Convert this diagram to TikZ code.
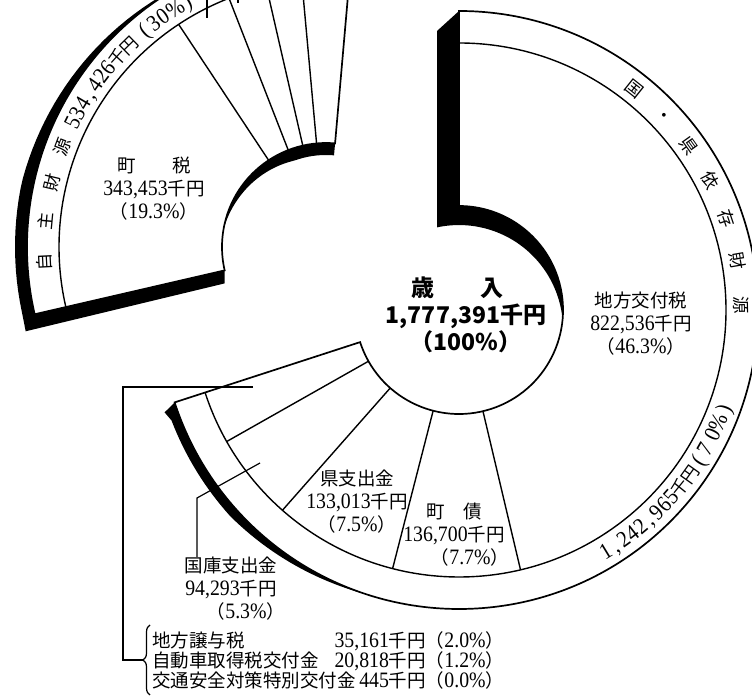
\documentclass[tikz,border=0pt]{standalone}
\usepackage{fontspec}
\setmainfont{Liberation Serif}[FakeStretch=0.9]
\newfontfamily\J{Noto Sans CJK JP}
\usetikzlibrary{decorations.pathreplacing}
\newcommand\jp[1]{{\fontsize{18.5}{23}\selectfont\J #1}}
\newcommand\jr[1]{{\fontsize{17.5}{17.5}\selectfont\J #1}}
\begin{document}
\begin{tikzpicture}[x=1pt,y=1pt,
  grp/.style={fill=white,draw=black,line width=1.7pt},
  ringline/.style={draw=black,line width=1.4pt},
  blk/.style={fill=black},
  ptr/.style={draw=black,line width=1.2pt},
  lbl/.style={font=\fontsize{22}{23}\selectfont,align=center,inner sep=0pt},
  rt/.style={anchor=base,inner sep=0pt,font=\fontsize{23}{23}\selectfont},
]
\useasboundingbox (0,0) rectangle (752,700);
\clip (0,0) rectangle (752,700);
\coordinate (C) at (459,390);
\coordinate (CL) at (326,453);

% shadows, right group
\begin{scope}[shift={(C)}]
\fill[blk] (0,299) -- (-22,279) -- (-22,82.6) arc[start angle=102.2,end angle=5.24,radius=104] arc[start angle=-5.24,end angle=90,radius=104] -- cycle;
\fill[blk] (-162:299) -- (-294.4,-102.4) -- plot[domain=-159:-108,samples=40] (\x:{299+9*min(1,(-108-\x)/30)}) -- (-108:299) arc[start angle=-108,end angle=-162,radius=299] -- cycle;
\end{scope}
% shadows, left group
\begin{scope}[shift={(CL)}]
\fill[blk] (193:104) -- (193:299) arc[start angle=193,end angle=118,radius=299] -- plot[domain=118:192,samples=40] (\x:{299+12*min(1,(\x-118)/50)}) -- (-300.3,-84.3) -- (-101.3,-36.4) -- cycle;
\fill[blk] (85:104) arc[start angle=85,end angle=170,radius=104] -- plot[domain=170:85,samples=40] (\x:{104-12*min(1,(170-\x)/60)}) -- cycle;
\end{scope}

% right group
\begin{scope}[shift={(C)}]
\path[grp] (90:104) -- (90:299) arc[start angle=90,end angle=-162,radius=299] -- (-162:104) arc[start angle=-162,end angle=90,radius=104] -- cycle;
\path[ringline] (90:267) arc[start angle=90,end angle=-162,radius=267];
\foreach \a in {-76.68,-104.4,-131.4,-150.48} \path[ringline] (\a:104) -- (\a:267);
\end{scope}
% left group
\begin{scope}[shift={(CL)}]
\path[grp] (85:104) -- (85:299) arc[start angle=85,end angle=193,radius=299] -- (193:104) arc[start angle=193,end angle=85,radius=104] -- cycle;
\path[ringline] (85:267) arc[start angle=85,end angle=193,radius=267];
\foreach \a in {123.5,111.3,102.9,95.2} \path[ringline] (\a:104) -- (\a:267);
\end{scope}

% ring texts
\begin{scope}[shift={(CL)}]
\foreach \a/\ch [count=\idx] in {183/\jr{自}, 174.7/\jr{主}, 166.7/\jr{財}, 159.3/\jr{源}, 153.9/5, 151.7/3, 149.5/4, 147.2/{,}, 145.0/4, 142.8/2, 140.6/6, 137.7/\jr{千}, 134.4/\jr{円}, 130.1/{(}, 127.6/3, 125.3/0, 122.3/\%, 119.5/{)}}
  \node[rt,rotate=\a-90] (L\idx) at (\a:275) {\ch};
\end{scope}
\begin{scope}[shift={(C)}]
\foreach \a/\ch [count=\idx] in {51.5/\jr{国}, 43.5/\jr{・}, 35.5/\jr{県}, 27.3/\jr{依}, 18.8/\jr{存}, 9.9/\jr{財}, 1.0/\jr{源}}
  \node[rt,rotate=\a-90] (R\idx) at (\a:276) {\ch};
\foreach \a/\ch [count=\idx] in {-58.7/1, -56.5/{,}, -54.4/2, -52.2/4, -50.0/2, -47.9/{,}, -45.7/9, -43.5/6, -41.4/5, -38.9/\jr{千}, -35.4/\jr{円}, -32.2/{(}, -29.5/7, -26.2/0, -23.6/\%, -20.4/{)}}
  \node[rt,rotate=\a+90] (B\idx) at (\a:290) {\ch};
\end{scope}

% labels
\node[font=\fontsize{23}{27}\selectfont\J\bfseries,align=center,inner sep=0pt] (sai) at (466,385.5) {歳　　入\hbox to 17pt{}\\1,777,391千円\\（100\%）};
\node[lbl] (chiho) at (641,376) {\jp{地方交付税}\\822,536\jp{千円}\\\jp{（}46.3\%\jp{）}};
\node[lbl] (choze) at (154,511) {\jp{町　　税}\\343,453\jp{千円}\\\jp{（}19.3\%\jp{）}};
\node[lbl] (ken) at (357,198) {\jp{県支出金}\\133,013\jp{千円}\\\jp{（}7.5\%\jp{）}};
\node[lbl] (chosai) at (454,165) {\jp{町　債}\\136,700\jp{千円}\\\hbox to 32pt{}\jp{（}7.7\%\jp{）}};
\node[lbl] (kokko) at (231,111) {\jp{国庫支出金}\\94,293\jp{千円}\\\hbox to 30pt{}\jp{（}5.3\%\jp{）}};
\node[anchor=west,align=left,inner sep=0pt,font=\fontsize{22}{20}\selectfont] (list) at (152,39.5)
 {\makebox[352pt]{\jp{地方譲与税}\hfill 35,161\jp{千円（}2.0\%\jp{）}}\\
  \makebox[352pt]{\jp{自動車取得税交付金}\hfill 20,818\jp{千円（}1.2\%\jp{）}}\\
  \makebox[352pt]{\jp{交通安全対策特別交付金}\hfill 445\jp{千円（}0.0\%\jp{）}}};

% brace and pointers
\coordinate (bBot) at (150,5);
\coordinate (bTop) at (150,75);
\coordinate (bTip) at (143,40);
\draw[ptr,decorate,decoration={brace,amplitude=7pt}] (bBot) -- (bTop);
\coordinate (pS) at (253,313);
\coordinate (bendS) at (123,40);
\draw[ptr] (pS) -| (bendS) -- (bTip);
\coordinate (pK) at (260,237);
\coordinate (pKb) at (197,202);
\draw[ptr] (pK) -- (pKb) -- (pKb |- kokko.north);
\coordinate (t1a) at (207,700);
\coordinate (t1b) at (207,682);
\coordinate (t2a) at (238,700);
\coordinate (t2b) at (238,697);
\draw[ptr] (t1a) -- (t1b);
\draw[ptr] (t2a) -- (t2b);
\end{tikzpicture}
\end{document}
